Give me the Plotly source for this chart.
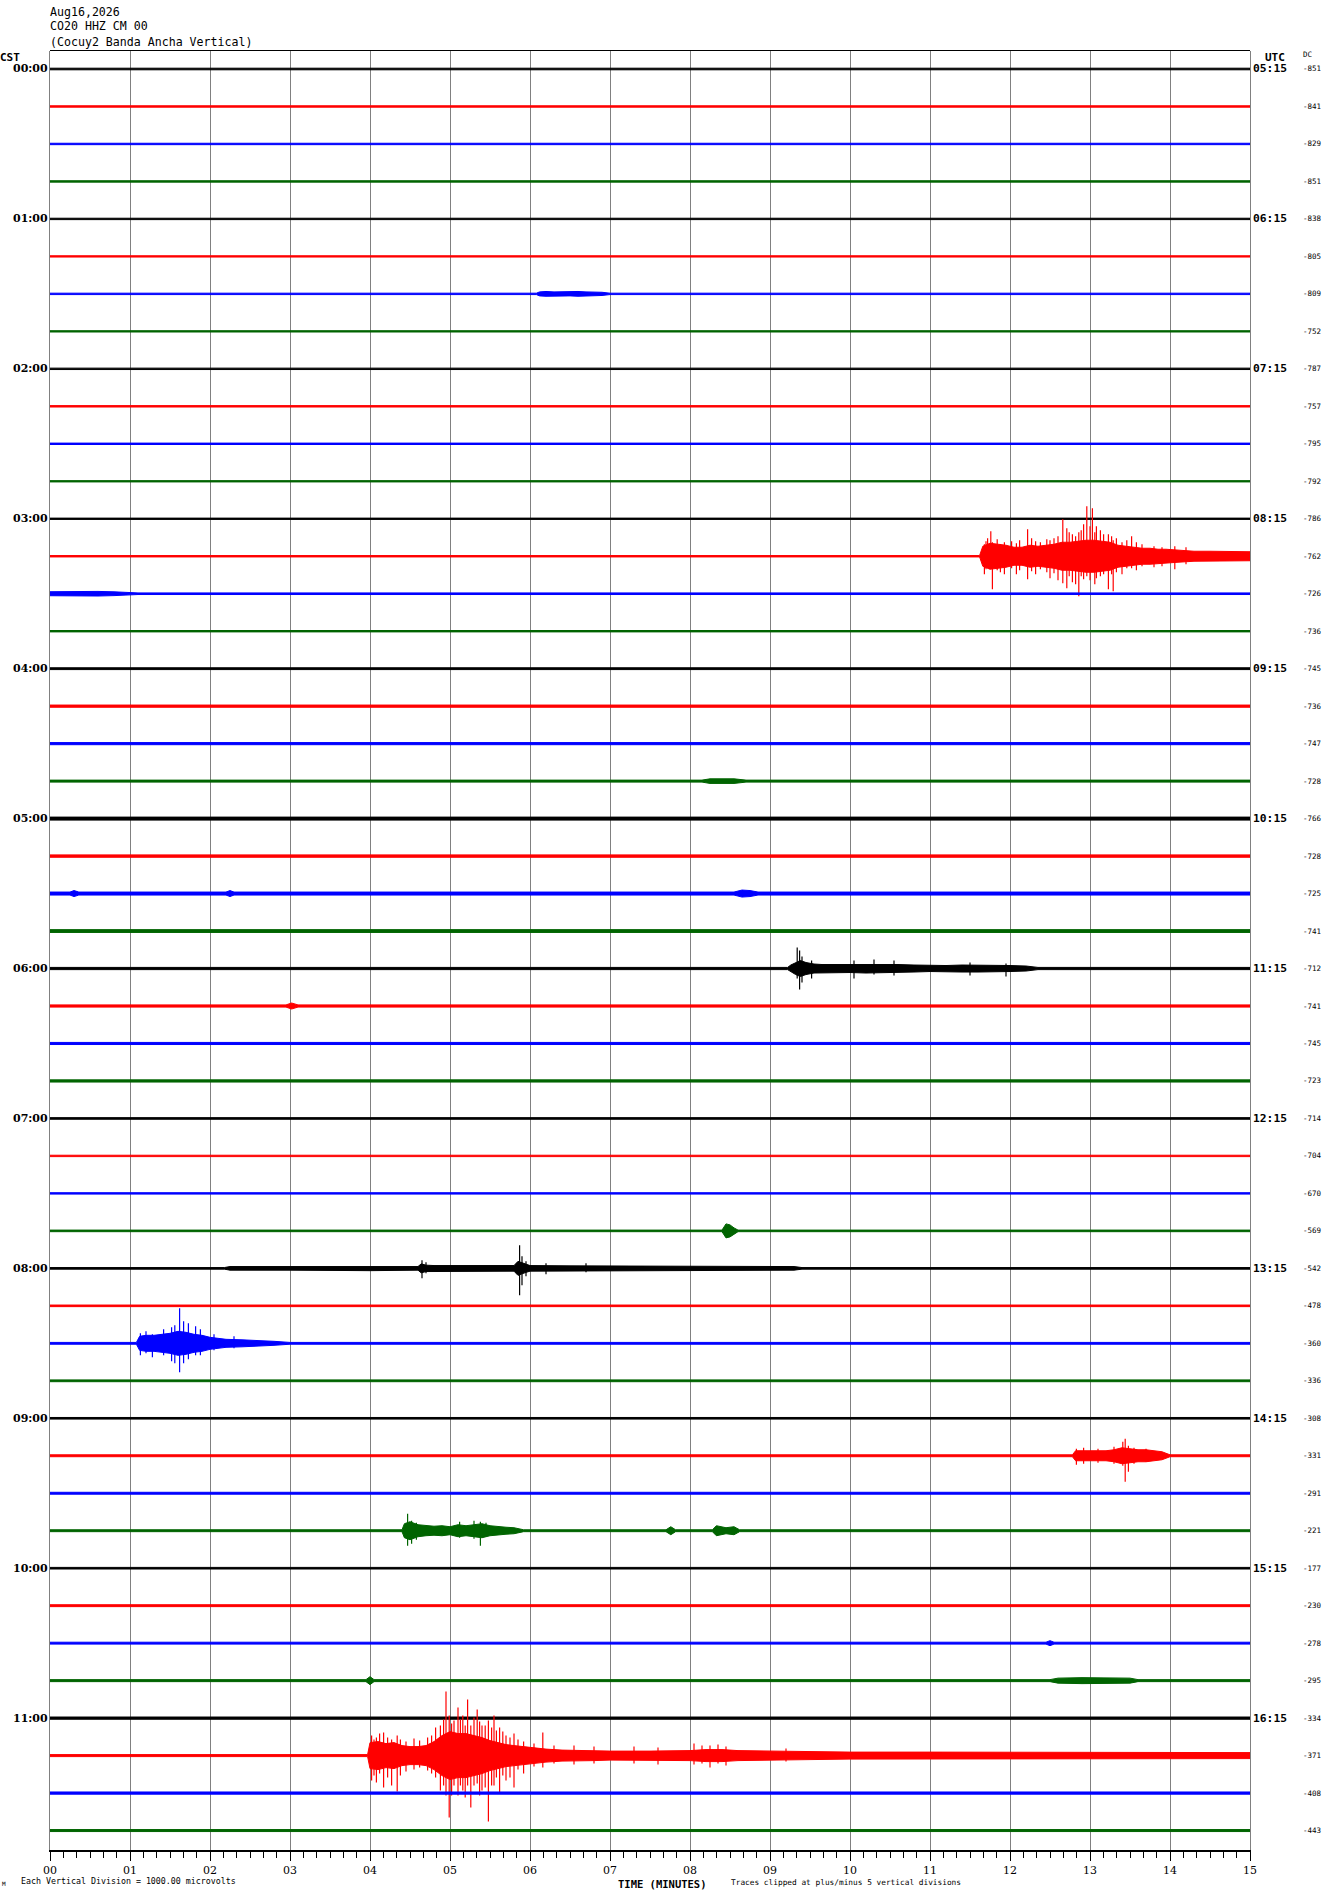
import plotly.graph_objects as go

# ---------------- data ----------------
date_label = "Aug16,2026"
station_label = "CO20 HHZ CM 00"
station_name = "(Cocuy2 Banda Ancha Vertical)"
cst_labels = ["00:00", "01:00", "02:00", "03:00", "04:00", "05:00",
              "06:00", "07:00", "08:00", "09:00", "10:00", "11:00"]
utc_labels = ["05:15", "06:15", "07:15", "08:15", "09:15", "10:15",
              "11:15", "12:15", "13:15", "14:15", "15:15", "16:15"]
dc_values = [-851, -841, -829, -851, -838, -805, -809, -752,
             -787, -757, -795, -792, -786, -762, -726, -736,
             -745, -736, -747, -728, -766, -728, -725, -741,
             -712, -741, -745, -723, -714, -704, -670, -569,
             -542, -478, -360, -336, -308, -331, -291, -221,
             -177, -230, -278, -295, -334, -371, -408, -443]
minute_labels = ["00", "01", "02", "03", "04", "05", "06", "07",
                 "08", "09", "10", "11", "12", "13", "14", "15"]

# background noise half-width of each 15-minute line (reference pixels)
base_amp = [0.8, 0.7, 0.7, 0.7, 0.7, 0.65, 0.7, 0.65,
            0.7, 0.7, 0.7, 0.65, 0.65, 0.7, 0.8, 0.7,
            0.9, 1.1, 1.05, 1.0, 1.5, 1.2, 1.5, 1.4,
            1.1, 1.1, 1.05, 1.1, 0.8, 0.7, 0.7, 0.8,
            0.8, 0.8, 0.9, 0.9, 0.8, 0.95, 0.95, 0.95,
            0.8, 0.95, 0.95, 1.0, 1.1, 1.0, 1.1, 1.0]

# event envelopes: minutes / half-width (reference pixels)
EV_0130_T = [6.08, 6.12, 6.20, 6.30, 6.40, 6.50, 6.60, 6.70, 6.80, 6.90, 7.00]
EV_0130_A = [0, 2.0, 2.4, 2.0, 2.2, 2.0, 2.4, 2.0, 2.0, 1.6, 0]

EV_0315_T = [11.62, 11.66, 11.75, 11.85, 11.95, 12.05, 12.15, 12.25, 12.35, 12.45,
             12.55, 12.65, 12.75, 12.85, 12.95, 13.05, 13.15, 13.25, 13.35, 13.45,
             13.55, 13.65, 13.75, 13.85, 13.95, 14.1, 14.3, 14.5, 14.7, 14.9, 15.0]
EV_0315_A = [0, 10, 13, 12, 11, 9, 9, 11, 10, 11,
             12, 14, 14, 15, 16, 16, 15, 14, 11, 10,
             9, 8, 8, 7, 7, 6, 5, 5, 4.5, 4.5, 4.5]
SP_0315_T = [11.68, 11.70, 11.72, 11.76, 11.78, 11.84, 11.88, 11.93, 12.02, 12.08,
             12.12, 12.22, 12.27, 12.32, 12.38, 12.46, 12.50, 12.55, 12.60, 12.66,
             12.71, 12.74, 12.78, 12.82, 12.86, 12.89, 12.92, 12.96, 13.00, 13.03,
             13.06, 13.08, 13.13, 13.17, 13.23, 13.27, 13.29, 13.33, 13.40, 13.46,
             13.52, 13.58, 13.65, 13.80, 13.90, 14.06, 14.20]
SP_0315_UP = [12, 15, 18, 25, 14, 17, 12, 14, 15, 13,
              16, 27, 18, 15, 14, 17, 16, 18, 20, 37,
              28, 24, 22, 20, 24, 26, 32, 50, 30, 48,
              24, 30, 26, 22, 22, 20, 16, 18, 14, 16,
              20, 14, 12, 10, 9, 10, 9]
SP_0315_DN = [18, 13, 10, 12, 33, 14, 16, 18, 12, 18,
              14, 23, 15, 18, 13, 16, 22, 17, 24, 27,
              32, 20, 26, 28, 40, 20, 23, 20, 24, 15,
              28, 22, 20, 18, 33, 18, 35, 16, 18, 12,
              12, 14, 10, 11, 10, 13, 8]

EV_0330_T = [0.0, 0.2, 0.4, 0.6, 0.8, 1.0, 1.1]
EV_0330_A = [2.0, 2.3, 2.0, 2.3, 1.9, 1.4, 0]

EV_0445_T = [8.15, 8.25, 8.40, 8.55, 8.70]
EV_0445_A = [0, 2.3, 2.6, 2.3, 0]

EV_0530_T = [0.25, 0.30, 0.36, 2.20, 2.25, 2.30, 8.55, 8.65, 8.75, 8.85]
EV_0530_A = [0, 3.0, 0, 0, 3.0, 0, 0, 3.5, 3.0, 0]

EV_0600_T = [9.22, 9.26, 9.32, 9.38, 9.45, 9.55, 9.65, 9.8, 10.0, 10.2, 10.4,
             10.6, 10.8, 11.0, 11.2, 11.4, 11.6, 11.8, 12.0, 12.2, 12.35]
EV_0600_A = [0, 3.5, 6, 8, 6, 4.5, 4, 4, 4, 4.5, 4.5,
             4, 3.5, 3, 3, 3.5, 3.5, 3.5, 3, 2.5, 0]
SP_0600_T = [9.34, 9.37, 9.40, 9.52, 10.05, 10.30, 10.55, 11.50, 11.95]
SP_0600_UP = [21, 18, 12, 8, 8, 9, 8, 6, 5]
SP_0600_DN = [10, 21, 14, 10, 10, 6, 7, 7, 8]

EV_0615_T = [2.95, 3.02, 3.10]
EV_0615_A = [0, 3, 0]

EV_0745_T = [8.40, 8.45, 8.50, 8.55, 8.60]
EV_0745_A = [0, 7, 6, 3, 0]

EV_0800_T = [2.18, 2.25, 3.0, 3.05, 4.0, 4.6, 4.64, 4.7, 4.8, 5.0,
             5.5, 5.8, 5.85, 5.95, 6.0, 6.5, 7.5, 8.5, 9.3, 9.4]
EV_0800_A = [0, 1.8, 1.8, 2.5, 2.3, 1.8, 4.5, 3.2, 2.8, 2.8,
             2.8, 2.8, 7, 4, 2.8, 2.5, 2.2, 2.2, 1.8, 0]
SP_0800_T = [4.65, 4.70, 5.87, 5.90, 5.95, 6.20, 6.70]
SP_0800_UP = [8, 6, 23, 12, 7, 5, 5]
SP_0800_DN = [10, 5, 27, 17, 8, 6, 4]

EV_0830_T = [1.08, 1.12, 1.2, 1.3, 1.4, 1.5, 1.6, 1.7, 1.8, 1.9,
             2.0, 2.1, 2.2, 2.4, 2.6, 2.8, 3.0]
EV_0830_A = [0, 7, 8, 8, 9, 10, 12, 11, 9, 8,
             6, 5, 4, 3.5, 3, 2, 0]
SP_0830_T = [1.13, 1.20, 1.28, 1.42, 1.52, 1.56, 1.62, 1.67, 1.73, 1.82,
             1.88, 2.05, 2.30]
SP_0830_UP = [10, 12, 9, 14, 16, 18, 35, 22, 20, 17, 14, 9, 7]
SP_0830_DN = [12, 10, 14, 12, 18, 20, 29, 20, 16, 12, 12, 7, 5]

EV_0915_T = [12.78, 12.82, 12.9, 13.0, 13.1, 13.2, 13.3, 13.4, 13.5, 13.6,
             13.7, 13.8, 13.9, 14.0]
EV_0915_A = [0, 5, 5, 5, 5, 5, 6, 8, 7, 6, 6, 5, 4, 0]
SP_0915_T = [12.83, 12.92, 13.10, 13.30, 13.41, 13.44, 13.48, 13.55, 13.70]
SP_0915_UP = [7, 8, 7, 9, 14, 17, 10, 8, 7]
SP_0915_DN = [9, 8, 7, 8, 10, 26, 16, 8, 6]

EV_0945_T = [4.40, 4.43, 4.5, 4.6, 4.7, 4.8, 4.9, 5.0, 5.1, 5.2,
             5.3, 5.4, 5.5, 5.6, 5.7, 5.8, 5.92,
             7.70, 7.76, 7.82, 8.28, 8.33, 8.45, 8.55, 8.62]
EV_0945_A = [0, 7, 9, 6, 5, 4.5, 5, 4, 6, 5,
             6, 7, 5, 4, 3.5, 3, 0,
             0, 4, 0, 0, 5, 3, 4, 0]
SP_0945_T = [4.47, 4.52, 4.58, 5.12, 5.30, 5.38, 5.45]
SP_0945_UP = [17, 10, 8, 9, 10, 9, 8]
SP_0945_DN = [15, 13, 9, 7, 8, 15, 6]

EV_1030_T = [12.45, 12.50, 12.55]
EV_1030_A = [0, 2.5, 0]

EV_1045_T = [3.95, 4.00, 4.05, 12.5, 12.6, 12.9, 13.2, 13.5, 13.6]
EV_1045_A = [0, 4, 0, 0, 2.5, 3, 2.8, 2.5, 0]

EV_1115_T = [3.97, 4.00, 4.10, 4.20, 4.30, 4.40, 4.50, 4.60, 4.70, 4.80,
             4.90, 5.00, 5.10, 5.20, 5.30, 5.40, 5.50, 5.60, 5.70, 5.80,
             5.90, 6.00, 6.20, 6.40, 6.60, 6.80, 7.00, 7.50, 8.00, 8.20,
             8.40, 8.60, 9.00, 9.50, 10.00, 11.00, 12.00, 13.00, 14.00, 15.00]
EV_1115_A = [0, 13, 14, 12, 13, 10, 9, 9, 10, 14,
             20, 24, 22, 22, 20, 18, 15, 13, 11, 10,
             9, 8, 6.5, 5.5, 5, 5, 4.5, 4.5, 5, 6,
             6, 5, 4.5, 4, 3.5, 3.5, 3.2, 3, 3, 3]
SP_1115_T = [4.02, 4.05, 4.08, 4.12, 4.17, 4.22, 4.27, 4.34, 4.38, 4.45,
             4.55, 4.62, 4.72, 4.77, 4.82, 4.88, 4.92, 4.95, 4.99, 5.02,
             5.05, 5.10, 5.13, 5.16, 5.19, 5.22, 5.26, 5.30, 5.34, 5.37,
             5.40, 5.44, 5.48, 5.52, 5.55, 5.58, 5.62, 5.66, 5.70, 5.75,
             5.80, 5.85, 5.92, 6.05, 6.16, 6.30, 6.55, 6.80, 7.30, 7.60,
             8.05, 8.15, 8.25, 8.35, 8.45, 9.20]
SP_1115_UP = [20, 16, 18, 22, 23, 18, 16, 20, 16, 14,
              17, 15, 18, 20, 28, 30, 36, 64, 40, 32,
              35, 48, 36, 40, 30, 56, 30, 38, 46, 34,
              30, 30, 35, 28, 40, 25, 28, 24, 20, 18,
              22, 16, 14, 12, 23, 10, 10, 9, 9, 8,
              12, 10, 10, 11, 9, 7]
SP_1115_DN = [25, 20, 27, 18, 32, 22, 30, 36, 20, 16,
              14, 12, 15, 18, 22, 35, 30, 40, 62, 40,
              30, 40, 30, 35, 42, 30, 52, 30, 28, 40,
              35, 32, 66, 30, 30, 22, 38, 20, 25, 22,
              32, 14, 18, 11, 12, 8, 9, 8, 8, 9,
              9, 8, 12, 8, 10, 6]

# (line index, times, half-widths)
core_events = [(6, EV_0130_T, EV_0130_A), (13, EV_0315_T, EV_0315_A),
               (14, EV_0330_T, EV_0330_A), (19, EV_0445_T, EV_0445_A),
               (22, EV_0530_T, EV_0530_A), (24, EV_0600_T, EV_0600_A),
               (25, EV_0615_T, EV_0615_A), (31, EV_0745_T, EV_0745_A),
               (32, EV_0800_T, EV_0800_A), (34, EV_0830_T, EV_0830_A),
               (37, EV_0915_T, EV_0915_A), (39, EV_0945_T, EV_0945_A),
               (42, EV_1030_T, EV_1030_A), (43, EV_1045_T, EV_1045_A),
               (45, EV_1115_T, EV_1115_A)]
# (line index, times, up, down)
spike_events = [(13, SP_0315_T, SP_0315_UP, SP_0315_DN),
                (24, SP_0600_T, SP_0600_UP, SP_0600_DN),
                (32, SP_0800_T, SP_0800_UP, SP_0800_DN),
                (34, SP_0830_T, SP_0830_UP, SP_0830_DN),
                (37, SP_0915_T, SP_0915_UP, SP_0915_DN),
                (39, SP_0945_T, SP_0945_UP, SP_0945_DN),
                (45, SP_1115_T, SP_1115_UP, SP_1115_DN)]

# ---------------- style ----------------
W, H = 1330, 1894
ROW_PX = 37.48          # reference pixels between consecutive lines
PLOT_L, PLOT_R = 50, 1250
PLOT_T, PLOT_B = 50.5, 1850
FIRST_ROW_PX = 69.0
line_colors = ["#000000", "#ff0000", "#0000ff", "#006400"]
n_rows = len(dc_values)

fig = go.Figure()

for r in range(n_rows):
    color = line_colors[r % 4]
    knots = {0.0: base_amp[r], 15.0: base_amp[r]}
    for er, T, A in core_events:
        if er == r:
            for t, a in zip(T, A):
                knots[t] = max(knots.get(t, 0), a, base_amp[r])
    ts = sorted(knots)
    amps = [knots[t] / ROW_PX for t in ts]
    xs = ts + ts[::-1]
    ys = [r - a for a in amps] + [r + a for a in amps[::-1]]
    fig.add_trace(go.Scatter(x=xs, y=ys, mode="lines", fill="toself",
                             fillcolor=color, line=dict(color=color, width=1),
                             hoverinfo="skip", showlegend=False))
    for er, T, UP, DN in spike_events:
        if er == r:
            sx, sy = [], []
            for t, u, d in zip(T, UP, DN):
                sx += [t, t, None]
                sy += [r - u / ROW_PX, r + d / ROW_PX, None]
            fig.add_trace(go.Scatter(x=sx, y=sy, mode="lines",
                                     line=dict(color=color, width=1.2),
                                     hoverinfo="skip", showlegend=False))

y_top = -(FIRST_ROW_PX - PLOT_T) / ROW_PX
y_bot = (n_rows - 1) + (PLOT_B - (FIRST_ROW_PX + (n_rows - 1) * ROW_PX)) / ROW_PX


def px(xp):
    return xp / W


def py(yp):
    return 1 - yp / H


ann = []
mono = "DejaVu Sans Mono"
serif = "DejaVu Serif"
for i, txt in enumerate([date_label, station_label, station_name]):
    ann.append(dict(text=txt, x=px(48), y=py([12, 26.5, 42][i]), xref="paper", yref="paper",
                    xanchor="left", yanchor="middle", showarrow=False,
                    font=dict(family=mono, size=11.6, color="black")))
ann.append(dict(text="<b>CST</b>", x=px(-2), y=py(57), xref="paper", yref="paper",
                xanchor="left", yanchor="middle", showarrow=False,
                font=dict(family=mono, size=11, color="black")))
ann.append(dict(text="<b>UTC</b>", x=px(1275), y=py(57), xref="paper", yref="paper",
                xanchor="center", yanchor="middle", showarrow=False,
                font=dict(family=mono, size=11, color="black")))
ann.append(dict(text="DC", x=px(1301), y=py(54), xref="paper", yref="paper",
                xanchor="left", yanchor="middle", showarrow=False,
                font=dict(family=mono, size=7.5, color="black")))
for k, lab in enumerate(cst_labels):
    ann.append(dict(text="<b>" + lab + "</b>", x=px(50), y=k * 4, xref="paper", yref="y",
                    xanchor="right", yanchor="middle", showarrow=False,
                    font=dict(family=serif, size=11, color="black")))
for k, lab in enumerate(utc_labels):
    ann.append(dict(text="<b>" + lab + "</b>", x=px(1251), y=k * 4, xref="paper", yref="y",
                    xanchor="left", yanchor="middle", showarrow=False,
                    font=dict(family=mono, size=11.3, color="black")))
for r, v in enumerate(dc_values):
    ann.append(dict(text=str(v), x=px(1301), y=r, xref="paper", yref="y",
                    xanchor="left", yanchor="middle", showarrow=False,
                    font=dict(family=mono, size=7.5, color="black")))
ann.append(dict(text="<b>TIME (MINUTES)</b>", x=px(662), y=py(1884), xref="paper", yref="paper",
                xanchor="center", yanchor="middle", showarrow=False,
                font=dict(family=mono, size=10.5, color="black")))
ann.append(dict(text="Traces clipped at plus/minus 5 vertical divisions", x=px(729), y=py(1882),
                xref="paper", yref="paper", xanchor="left", yanchor="middle", showarrow=False,
                font=dict(family=mono, size=7.8, color="black")))
ann.append(dict(text="Each Vertical Division = 1000.00 microvolts", x=px(19), y=py(1881),
                xref="paper", yref="paper", xanchor="left", yanchor="middle", showarrow=False,
                font=dict(family=mono, size=8.3, color="black")))
ann.append(dict(text="M", x=px(0), y=py(1883), xref="paper", yref="paper",
                xanchor="left", yanchor="middle", showarrow=False,
                font=dict(family=mono, size=6, color="black")))

fig.update_layout(
    width=W, height=H, autosize=False,
    margin=dict(l=0, r=0, t=0, b=0, pad=0, autoexpand=False),
    paper_bgcolor="white", plot_bgcolor="white", showlegend=False,
    annotations=ann,
    xaxis=dict(domain=[PLOT_L / W, PLOT_R / W], range=[0, 15], automargin=False,
               tickmode="array", tickvals=list(range(16)), ticktext=minute_labels,
               ticks="outside", ticklen=9, tickwidth=1, tickcolor="black",
               tickfont=dict(family=serif, size=11, color="black"),
               showgrid=True, gridcolor="#808080", gridwidth=1, zeroline=False,
               showline=True, linecolor="black", linewidth=2,
               minor=dict(tickmode="linear", tick0=0, dtick=1 / 6, ticks="outside",
                          ticklen=6, tickwidth=1, tickcolor="black", showgrid=False)),
    yaxis=dict(domain=[1 - PLOT_B / H, 1 - PLOT_T / H], range=[y_bot, y_top],
               automargin=False, showticklabels=False, ticks="", showgrid=False,
               zeroline=False, showline=True, linecolor="#808080", linewidth=1,
               mirror=True),
    shapes=[dict(type="line", xref="x", yref="paper", x0=0, x1=15,
                 y0=1 - PLOT_T / H, y1=1 - PLOT_T / H,
                 line=dict(color="black", width=1))],
)
fig.update_xaxes(tickprefix="<b>", ticksuffix="</b>")

post = ("document.documentElement.style.margin='0';"
        "document.body.style.margin='0';document.body.style.padding='0';"
        "document.body.style.overflow='hidden';"
        "var gd=document.getElementById('{plot_id}');"
        "gd.style.position='absolute';gd.style.left='0px';gd.style.top='0px';")
fig.write_html("out.html", config={"displayModeBar": False, "staticPlot": True,
                                   "responsive": False},
               post_script=post)
